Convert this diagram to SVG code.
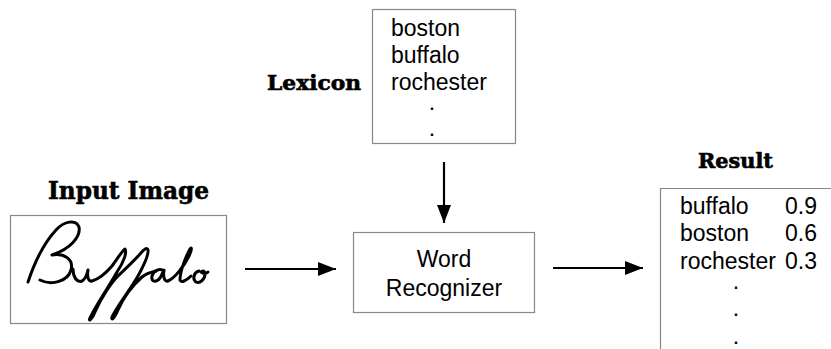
<svg xmlns="http://www.w3.org/2000/svg" width="831" height="349" viewBox="0 0 831 349">
<style>
.box{fill:#fff;stroke:#888;stroke-width:1.2}
.lbl{font-family:"DejaVu Serif","Liberation Serif",serif;font-weight:bold;fill:#000;stroke:#000;stroke-width:0.6}
.t{font-family:"Liberation Sans",Arial,sans-serif;font-size:23px;fill:#000}
.d{font-family:"Liberation Sans",Arial,sans-serif;font-size:16px;font-weight:bold;fill:#000}
.ar{stroke:#000;stroke-width:2.2;fill:none}
.hw{fill:none;stroke:#000;stroke-width:3;stroke-linecap:round;stroke-linejoin:round}
</style>
<defs>
<marker id="ah" viewBox="0 0 18 14" refX="18" refY="7" markerWidth="18" markerHeight="14" markerUnits="userSpaceOnUse" orient="auto">
<path d="M0,0 L18,7 L0,14 Z" fill="#000"/>
</marker>
</defs>
<rect width="831" height="349" fill="#fff"/>

<g id="input-image">
<text class="lbl" x="48" y="199" font-size="24" textLength="161" lengthAdjust="spacingAndGlyphs">Input Image</text>
<rect class="box" x="10.5" y="215.5" width="216" height="108"/>
<g id="handwriting">
<path class="hw" d="M28 282 C34 264 44 243 56 230 C64 221 76 219 79 227 C81 237 70 249 52 255 C64 253 74 259 71 270 C68 281 52 286 40 280"/>
<path class="hw" d="M73 269 C73 277 77 283 82 281 C86 279 87 274 88 270 C87 276 88 282 92 281 C99 279 106 273 112 266 C118 258 122 251 125 249 C127 252 124 262 117 272 C110 285 96 305 90 318 C88 322 92 320 95 312 C102 296 112 282 118 276 C124 270 133 262 140 254 C144 249 147 247 148 250 C149 255 144 265 138 276 C130 290 118 305 112 317 C111 321 114 319 118 310 C124 296 134 284 142 277 C147 273 152 272 156 271"/>
<path class="hw" d="M164 271 C160 268 154 270 152 276 C151 282 156 283 160 278 C162 275 163 271 164 270 C163 276 164 282 168 281 C175 278 184 266 189 256 C192 250 192 246 190 249 C185 258 180 272 180 280 C181 283 186 281 191 276"/>
<path class="hw" d="M199 271 C194 272 192 279 196 282 C200 284 205 279 205 274 C205 271 203 270 201 272 C203 274 206 274 208 272"/>
</g>
</g>

<g id="lexicon">
<text class="lbl" x="267" y="90" font-size="20" textLength="94" lengthAdjust="spacingAndGlyphs">Lexicon</text>
<rect class="box" x="372.5" y="9.5" width="143" height="134"/>
<text class="t" x="391" y="36">boston</text>
<text class="t" x="391" y="63">buffalo</text>
<text class="t" x="391" y="90">rochester</text>
<text class="d" x="432" y="110" text-anchor="middle">.</text>
<text class="d" x="432" y="136" text-anchor="middle">.</text>
</g>

<g id="word-recognizer">
<rect class="box" x="353.5" y="232.5" width="181" height="80"/>
<text class="t" x="444" y="267" text-anchor="middle">Word</text>
<text class="t" x="444" y="296" text-anchor="middle">Recognizer</text>
</g>

<g id="result">
<text class="lbl" x="698" y="168" font-size="20" textLength="75" lengthAdjust="spacingAndGlyphs">Result</text>
<path d="M840 188.5 H660.5 V360" fill="none" stroke="#888" stroke-width="1.2"/>
<text class="t" x="680" y="214">buffalo</text>
<text class="t" x="785" y="214">0.9</text>
<text class="t" x="680" y="241">boston</text>
<text class="t" x="785" y="241">0.6</text>
<text class="t" x="680" y="269">rochester</text>
<text class="t" x="785" y="269">0.3</text>
<text class="d" x="736" y="289" text-anchor="middle">.</text>
<text class="d" x="736" y="316" text-anchor="middle">.</text>
<text class="d" x="736" y="344" text-anchor="middle">.</text>
</g>

<g id="connectors">
<line class="ar" x1="245" y1="269" x2="336" y2="269" marker-end="url(#ah)"/>
<line class="ar" x1="444" y1="162" x2="444" y2="223" marker-end="url(#ah)"/>
<line class="ar" x1="553" y1="268" x2="643" y2="268" marker-end="url(#ah)"/>
</g>
</svg>
